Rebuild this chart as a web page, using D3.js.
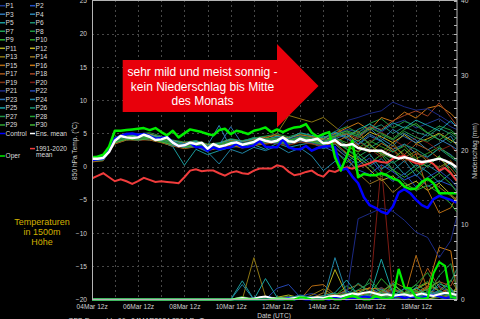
<!DOCTYPE html>
<html><head><meta charset="utf-8">
<script src="https://cdn.jsdelivr.net/npm/d3@7"></script>
<style>html,body{margin:0;padding:0;background:#000;}svg{display:block}</style>
</head><body><svg id="c" width="480" height="319"></svg>
<script>
// ---------- DATA ----------
const hours6 = [0,6,12,18,24,30,36,42,48,54,60,66,72,78,84,90,96,102,108,114,120,126,132,138,144,150,156,162,168,174,180,186,192,198,204,210,216,222,228,234,240,246,252,258,264,270,276,282,288,294,300,306,312,318,324,330,336,342,348,354,360,366,372,378];
const hours12 = [0,12,24,36,48,60,72,84,96,108,120,132,144,156,168,180,192,204,216,228,240,252,264,276,288,300,312,324,336,348,360,372,378];
const xTickHours = [0,48,96,144,192,240,288,336];
const xTickLabels = ["04Mar 12z","06Mar 12z","08Mar 12z","10Mar 12z","12Mar 12z","14Mar 12z","16Mar 12z","18Mar 12z"];
const tempTicks = [-20,-15,-10,-5,0,5,10,15,20,25];
const precipTicks = [0,10,20,30,40];

const ensMean = [1.2,1.2,1.3,2.2,3.9,4.6,4.4,4.3,4.4,4.8, 4.5,4.0,4.1,4.4,3.6,3.1,3.2,3.6,3.4,3.6, 2.7,3.4,3.0,3.2,3.5,3.65,3.3,3.5,3.7,4.2, 3.9,3.7,3.9,4.4,3.8,3.7,4.2,3.9,4.0,4.2, 3.5,3.6,4.0,3.3,3.2,3.4,2.8,2.6,2.4,2.4, 2.4,1.9,1.5,1.2,1.4,1.2,0.9,0.7,0.8,1.0, 1.2,0.9,0.5,-0.1];
const oper = [1.4,1.5,1.8,3.0,5.4,5.4,5.5,5.6,5.7,5.8, 5.5,5.8,5.2,4.7,5.4,4.4,5.0,5.6,5.4,5.2, 4.9,4.7,5.5,5.7,4.9,5.4,5.2,4.9,5.4,5.6, 5.9,5.2,5.6,5.2,5.6,5.9,6.0,6.4,5.1,4.5, 4.9,5.2,1.4,-0.6,1.5,3.9,-1.6,-1.1,-1.3,-1.3, -1.0,-1.3,-1.8,-2.1,-3.0,-3.4,-3.3,-2.3,-1.8,-2.5, -4.0,-4.0,-4.0,-4.0];
const control = [1.0,1.1,1.2,2.4,4.2,4.6,4.9,5.0,4.8,4.9, 4.6,4.2,4.3,4.5,3.6,3.1,3.2,3.6,2.9,3.0, 2.4,2.9,2.6,2.8,2.9,3.4,2.9,3.0,3.2,3.9, 3.0,2.9,2.9,4.2,2.9,2.65,2.6,3.1,2.4,2.8, 3.0,3.1,2.9,-0.5,-0.3,-1.5,-2.5,-4.6,-5.8,-6.2, -6.8,-7.1,-6.0,-3.9,-3.4,-4.0,-5.0,-5.8,-6.2,-4.9, -4.4,-4.7,-5.0,-5.4];
const climMean = [-1.8,-1.4,-1.0,-1.6,-2.2,-1.9,-2.2,-2.6,-2.2,-1.7, -2.0,-2.3,-2.2,-2.3,-2.4,-2.5,-1.6,-0.6,-0.4,-0.7, -0.6,-0.6,-1.0,-1.35,-0.9,-0.7,-1.0,-1.1,-0.6,-0.3, -0.3,-0.3,0.2,0.0,-0.75,-1.3,-1.1,-0.8,-0.6,-1.2, -1.5,-0.6,-0.8,-0.4,-0.1,-0.3,0.0,0.2,0.5,0.9, 0.7,0.6,1.2,1.4,1.65,0.9,0.5,0.4,0.9,0.4, -0.6,-0.2,-1.0,-2.1];

const ensMeanPrecip = [0,0,0,0,0,0,0,0,0,0, 0,0,0,0,0,0,0,0,0,0, 0,0,0,0,0, 0.1,0.2,0.1,0.1,0.3,0.4,0.2,0.1,0.1,0.1, 0.2,0.3,0.2,0.2,0.3,0.2,0.4,0.5,0.4,0.6, 0.8,0.7,0.9,1.0,0.8,0.6,0.7,0.5,0.6,0.7, 0.5,0.6,0.8,0.6,0.5,0.7,0.9,0.8,0.6];
const controlPrecip = [0,0,0,0,0,0,0,0,0,0, 0,0,0,0,0,0,0,0,0,0, 0,0,0,0,0,0,0,0,0,0, 0,0.1,0,0,0.2,0,0.1,0,0,0.2, 0.1,0,0.3,0.2,0,0.1,0.2,0.4,0.3,0.1, 0.2,0.1,0.3,0.5,0.2,0.4,0.3,0.2,0.5,0.6, 0.4,0.2,0.3,0.2];
const operPrecip = [0,0,0,0,0,0,0,0,0,0, 0,0,0,0,0,0,0,0,0,0, 0,0,0,0,0,0,0,0,0,0, 0,0,0,0,0, 0,0.3,0.2,0, 0,0,0.2,0,0,0.3,0.5,0.2,0,0,0.4,0.2,0.1,0.3, 4.1,1.6,1.5,0.3,0.1,0.2,3.5,5.0,4.5,0.3,0.2];

const memberNames = ["P1","P2","P3","P4","P5","P6","P7","P8","P9","P10","P11","P12","P13","P14","P15","P16","P17","P18","P19","P20","P21","P22","P23","P24","P25","P26","P27","P28","P29","P30"];
const memberColors = ["#1f3a93","#2451c8","#2f78b8","#2c86b3","#1a9a9a","#1b8f6e","#1fa055","#1e9640","#2fb02f","#2d9b22","#b5b01e","#c4b41c","#8c7612","#957420","#b36a12","#c77614","#a5561a","#a44422","#833514","#7e1c14","#1c2a85","#2446b2","#2e72b4","#2084a4","#19a3a3","#1a946f","#229445","#24a232","#32a632","#44b433"];

const memberTemps = [
[0.9,1.0,4.0,4.8,4.5,4.9,4.3,3.5,3.0,3.6, 2.5,3.2,3.8,3.0,3.9,4.2,3.6,3.5,4.6,4.3, 3.9,4.8,5.6,5.2,6.0,5.2,6.4,7.0,5.8,6.5, 7.2,6.0,5.6],
[1.3,1.4,4.2,4.6,4.7,4.4,4.0,3.2,3.3,3.0, 2.9,3.3,3.1,3.6,3.4,4.0,4.3,3.6,4.0,3.5, 3.0,2.2,1.0,-0.5,-1.2,0.3,-0.8,-2.0,-1.2,-3.0, -2.1,-2.8,-3.5],
[1.1,1.2,3.6,4.2,4.0,4.6,3.8,3.9,2.9,3.5, 3.0,2.6,3.9,3.2,3.5,3.6,4.1,4.4,3.6,4.5, 4.2,5.0,4.2,3.3,4.6,3.8,2.6,3.4,2.0,1.4, 2.8,1.8,1.0],
[1.5,1.6,4.3,4.9,4.6,4.8,4.5,3.8,3.5,3.9, 3.2,6.2,2.8,3.9,4.2,4.5,3.7,4.3,4.8,3.9, 4.6,3.8,2.9,4.6,5.8,4.2,3.1,5.0,4.0,2.5, 3.5,4.6,3.2],
[0.8,1.0,3.5,4.0,4.2,4.0,3.7,3.0,0.2,2.6, 1.8,2.4,2.9,3.1,3.3,2.6,3.5,2.9,3.3,3.6, 2.7,3.4,1.8,0.6,1.9,-0.4,0.8,-1.2,0.3,-0.8, -2.4,-1.0,-1.8],
[1.2,1.3,4.1,4.5,4.8,4.6,4.3,3.9,3.5,3.7, 3.3,3.5,4.0,3.8,4.4,4.1,4.5,4.0,4.7,4.4, 4.1,4.9,5.3,4.4,5.6,6.3,5.0,6.0,5.2,4.6, 5.8,4.9,4.2],
[1.0,1.1,3.8,4.3,4.1,4.2,3.9,3.4,3.1,3.2, 2.6,3.0,3.4,3.0,3.5,3.8,3.6,3.9,4.0,3.7, 3.3,3.9,2.7,1.5,2.6,1.9,0.5,1.6,-0.3,0.6, 1.5,0.2,-0.9],
[1.4,1.5,4.4,5.0,4.9,5.1,4.6,4.0,3.7,3.9, 3.4,3.6,4.2,3.9,4.3,4.6,4.9,4.5,5.0,4.6, 4.3,5.3,6.0,5.1,6.5,7.2,5.8,6.8,6.2,5.0, 6.1,5.5,4.8],
[1.1,1.2,3.9,4.6,4.4,4.7,4.2,3.8,3.3,3.6, 2.9,3.2,3.7,3.4,3.8,4.0,4.2,4.1,4.4,4.1, 3.8,2.5,0.6,2.0,0.5,1.8,-0.5,-1.6,-0.4,-2.2, -1.0,-2.6,-3.8],
[1.3,1.4,4.1,4.7,4.6,4.5,4.1,3.6,3.4,3.5, 2.8,3.1,3.6,3.5,3.9,4.2,4.0,3.7,4.3,4.2, 3.6,4.3,3.6,2.8,3.9,3.0,2.2,3.1,1.2,2.0, 3.0,1.6,1.1],
[0.7,0.9,3.6,4.1,4.0,4.3,3.8,3.3,2.9,3.3, 2.5,2.9,3.3,2.9,3.4,3.5,3.8,4.2,4.0,3.9, 3.4,3.6,2.0,1.1,-0.5,-2.1,-1.4,-3.0,-2.2,-3.6, -2.5,-4.2,-5.0],
[1.2,1.3,4.0,4.5,4.3,4.6,4.0,3.7,3.2,3.4, 3.0,3.4,3.9,3.5,3.7,4.1,4.4,4.0,4.5,4.3, 4.0,4.6,4.9,3.8,5.2,4.5,3.6,4.8,3.5,4.2, 5.0,4.0,3.4],
[1.0,1.1,3.7,4.4,4.2,4.4,3.9,3.5,3.1,3.4, 2.8,3.2,3.6,3.3,3.8,4.2,5.0,7.7,7.2,6.7, 7.4,6.0,4.5,5.4,3.2,2.1,3.6,1.4,2.3,0.8, -0.1,0.9,-0.4],
[1.3,1.4,4.2,4.7,4.5,4.7,4.2,3.8,3.4,3.6, 3.1,3.4,3.9,3.7,4.0,4.3,4.1,3.8,4.5,4.0, 3.7,2.8,1.5,-1.0,-2.6,-1.8,-3.9,-2.5,-3.6,-1.9, -3.1,-4.4,-5.2],
[0.9,1.0,3.4,4.0,4.1,4.0,3.6,3.1,2.7,3.0, 2.4,2.8,3.2,2.8,3.2,3.4,3.6,3.3,3.8,3.5, 3.1,3.7,4.5,3.2,2.1,3.5,2.6,0.9,1.9,-3.5, -7.0,-6.2,-4.5],
[1.4,1.5,4.3,4.8,4.7,4.9,4.4,3.9,3.6,3.8, 3.3,3.5,4.1,3.8,4.1,4.4,4.7,4.3,4.8,4.5, 4.2,5.0,5.8,6.6,5.5,7.4,6.8,8.2,7.3,8.8, 9.2,8.0,7.1],
[1.1,1.2,3.8,4.3,4.2,4.4,4.0,3.5,3.1,3.3, 2.7,3.1,3.5,3.2,3.6,3.9,3.7,3.6,4.1,3.8, 3.5,4.1,3.0,2.3,3.4,1.7,3.1,1.8,3.4,2.6, 1.2,-0.3,-1.4],
[1.2,1.3,3.9,4.4,4.3,4.5,4.1,3.6,3.2,3.5, 2.9,3.2,3.7,3.4,3.8,4.0,4.3,3.9,4.4,4.1, 3.8,4.4,5.0,4.2,6.0,5.6,6.9,7.7,8.4,7.6, 9.6,7.4,6.2],
[0.8,0.9,3.5,4.1,3.9,4.1,3.7,3.2,2.8,3.1, 2.5,2.9,3.3,3.0,3.4,3.6,3.4,3.2,3.7,3.4, 3.0,3.5,2.1,3.8,2.7,1.4,2.5,0.6,2.0,1.2, -0.4,0.8,0.0],
[1.0,1.1,3.8,4.3,4.2,4.3,3.9,3.4,3.0,3.3, 2.8,3.1,3.5,3.1,3.6,3.8,3.9,3.7,4.2,3.9, 3.5,4.0,3.3,4.6,3.6,5.2,4.1,3.0,4.4,3.6, 2.4,3.2,2.1],
[1.3,1.4,4.1,4.6,4.5,4.6,4.1,3.7,3.4,3.6, 3.1,3.3,3.8,3.6,3.9,4.2,4.4,4.1,4.6,4.3, 3.9,5.2,6.9,7.4,8.0,8.4,9.7,9.0,8.5,8.7, 7.7,6.6,6.2],
[1.0,1.1,3.7,4.2,4.0,4.2,3.8,3.3,2.9,3.2, 2.6,3.0,3.4,3.1,3.5,3.7,3.5,3.4,3.9,3.6, 3.2,3.0,1.4,0.2,1.3,-0.9,-2.2,-1.0,-3.1,-1.6, -0.6,-2.0,-3.0],
[1.2,1.3,4.0,4.5,4.4,4.5,4.0,3.6,3.3,3.5, 3.0,3.2,6.0,3.4,3.8,4.1,4.0,3.8,4.3,4.0, 3.6,4.2,4.8,3.4,4.9,3.9,5.6,4.5,3.6,5.0, 4.1,3.2,2.6],
[0.9,1.0,3.6,4.2,4.1,4.3,3.8,3.2,2.9,3.0, 2.2,0.4,2.6,2.0,2.9,2.4,3.1,2.1,2.8,1.6, -0.6,0.8,-0.4,1.5,0.1,1.2,-0.6,0.9,-1.4,0.2, -0.9,0.6,-0.5],
[1.4,1.5,4.3,4.8,4.6,4.8,4.4,3.9,3.5,3.8, 3.2,3.5,4.1,3.8,4.2,4.0,4.6,4.2,5.1,4.7, 4.3,5.2,4.4,5.6,6.4,5.4,6.6,5.8,7.0,6.2, 5.4,6.9,6.0],
[1.1,1.2,3.9,4.4,4.3,4.5,4.0,3.6,3.2,3.4, 2.9,3.3,3.7,3.3,3.7,3.9,4.1,3.8,4.3,4.0, 3.6,4.4,3.2,4.0,2.8,3.9,2.2,3.3,2.6,1.5, 2.7,1.4,0.8],
[1.3,1.4,4.1,4.6,4.5,4.6,4.2,3.7,3.3,3.6, 3.0,3.4,3.8,3.5,3.9,4.2,4.3,4.0,4.5,4.3, 3.8,4.5,5.1,4.6,3.5,4.8,4.0,5.3,4.4,3.8, 4.9,3.6,4.4],
[1.0,1.1,3.7,4.2,4.1,4.3,3.8,3.4,3.0,3.3, 2.7,3.1,3.5,3.2,3.6,3.8,3.6,3.5,4.0,3.7, 3.3,3.8,2.6,1.3,0.2,-1.5,-0.4,-2.4,-3.6,-2.8, -4.0,-5.6,-6.8],
[1.2,1.3,4.0,4.5,4.4,4.4,4.1,3.6,3.2,3.5, 2.9,3.3,3.7,3.3,3.8,4.1,4.2,3.9,4.4,4.1, 3.7,4.6,5.4,4.8,5.9,5.0,4.2,5.6,6.5,5.1, 4.0,5.2,4.6],
[0.9,1.0,3.6,4.1,4.0,4.2,3.7,3.3,2.9,3.2, 2.6,3.0,3.4,3.0,3.4,3.7,3.8,3.6,4.1,3.8, 3.4,3.9,3.1,2.2,3.3,2.0,1.2,2.6,0.9,0.0, 1.6,-0.8,-2.2]
];

const memberPrecip = [
[0,0,0,0,0,0,0,0,0,0,0,0, 0,0,0.2,0.3,0,0,0.5,0.8,0.3,0, 0.4,1.2,0.6,0.2,0,0.3,0.8,1.4,0.5,0.2, 0.6],
[0,0,0,0,0,0,0,0,0,0,0,0, 0,0,0,0.4,0.2,0,0,0.3,0,0.6, 1.1,0.4,0.9,1.6,0.7,0.3,1.0,0.5,1.8,0.9, 0.4],
[0,0,0,0,0,0,0,0,0,0,0,0, 0,0.3,0,0,0,0.2,0,0,0.4,0.2, 0,0.3,0.8,0.2,0,0.5,0.3,0,0.6,1.0, 0.3],
[0,0,0,0,0,0,0,0,0,0,0,0, 0,0,0,0,0.3,0,0,0,0,0.2, 0.6,0,0.3,0.9,2.2,0.6,0.2,1.1,0.4,0.2, 0.8],
[0,0,0,0,0,0,0,0,0,0,0,0, 0,2.5,0,0.2,0,0,0.3,0,0,0, 1.2,0.4,0,0.6,1.5,0.8,0.3,0,0.4,1.3, 0.2],
[0,0,0,0,0,0,0,0,0,0,0,0, 0,0,0.2,0,0,0,0,0.3,0.5,0.2, 0,0.2,0.3,0.6,0.2,0,0.4,0.9,0.3,0.6, 0.5],
[0,0,0,0,0,0,0,0,0,0,0,0, 0,0,0,0,0.2,0.4,0.2,0,0.3,0.8, 0.6,1.3,2.2,0.9,1.4,0.7,2.0,1.1,0.5,0.9, 1.5],
[0,0,0,0,0,0,0,0,0,0,0,0, 0,0,0,0,0,0,0,0,0.2,0, 0.3,0,0.5,0.2,0.2,0.6,0.3,0.2,0,0.4, 0.3],
[0,0,0,0,0,0,0,0,0,0,0,0, 0,0.4,0,0,0.3,0.2,0,0,0,0.5, 1.8,0.9,0.6,2.8,1.2,0.8,1.5,2.4,1.0,0.6, 1.3],
[0,0,0,0,0,0,0,0,0,0,0,0, 0,0,0,0.2,0,0,0.3,0,0.2,0, 0.5,0.2,0,0.8,0.4,0.2,0.6,1.0,0.4,0.2, 0.7],
[0,0,0,0,0,0,0,0,0,0,0,0, 0,0,0,0,0.3,0.6,0.2,0,0,4.0, 0.6,0.9,1.6,0.4,2.0,0.8,1.4,2.2,1.1,0.5, 1.6],
[0,0,0,0,0,0,0,0,0,0,0,0, 0,0,0,0,0,0.2,0,0,0.3,0.2, 0,0.4,0.2,0,0.3,0.6,0.2,0,0.5,0.3, 0.2],
[0,0,0,0,0,0,0,0,0,0,0,0, 0,0,5.6,0.4,0,0.2,0,0.6,1.4,0.5, 0.2,0.9,0.4,1.2,0.6,0.2,0.8,0.4,1.0,0.5, 0.3],
[0,0,0,0,0,0,0,0,0,0,0,0, 0,0,0,0,0,0,0.4,0.2,0.9,0.5, 1.3,2.0,1.2,0.8,2.4,1.6,0.9,1.8,1.2,2.6, 1.4],
[0,0,0,0,0,0,0,0,0,0,0,0, 0,0,0,0.2,0,0,0,1.8,2.0,0.6, 0.2,0.5,0.9,0.3,0.6,0.4,5.9,1.2,0.8,1.6, 0.5],
[0,0,0,0,0,0,0,0,0,0,0,0, 0,0,0,0,0,0,0,0.3,0.5,0.2, 0.4,1.2,1.5,1.4,0.6,0.3,0.8,1.6,7.0,6.5, 1.2],
[0,0,0,0,0,0,0,0,0,0,0,0, 0,0,0,0,0.2,0,0,0,0.3,0.6, 0.3,0.2,0.5,1.0,0.5,0.3,0.9,4.2,1.6,0.7, 0.4],
[0,0,0,0,0,0,0,0,0,0,0,0, 0,0,0,0,0,0,0,0,0,0.2, 0.5,0.3,0,0.6,1.4,0.8,0.4,1.6,2.4,1.8, 3.4],
[0,0,0,0,0,0,0,0,0,0,0,0, 0,0,0,0,0,0.3,0,0.2,0,0.5, 0.9,0.6,0.3,1.6,0.9,0.4,1.2,0.6,0.3,0.8, 0.5],
[0,0,0,0,0,0,0,0,0,0,0,0, 0,0,0,0,0,0,0,0,0,0, 0.3,0.4,0.6,18.0,0.4,0.2,0.8,0.5,0.3,0.6, 0.4],
[0,0,0,0,0,0,0,0,0,0,0,0, 0,0,0,0,0,0,0,0,0,0, 0.5,10.8,11.5,12.2,11.8,10.6,9.0,8.3,5.6,7.9, 11.0],
[0,0,0,0,0,0,0,0,0,0,0,0, 0,0,0,0,1.5,2.0,0.3,0,0.2,0, 0.4,0.6,0.3,0.2,0.8,0.4,0.2,0.5,0.9,0.3, 0.6],
[0,0,0,0,0,0,0,0,0,0,0,0, 0,0,0.2,0,0,0.2,0.6,0.3,0,0.3, 0.8,0.4,0.2,0.9,0.5,1.5,0.7,0.3,1.1,0.6, 0.4],
[0,0,0,0,0,0,0,0,0,0,0,0, 0,2.0,0,0,0.3,0,0,0.4,0,5.6, 0.8,0.3,0.6,1.4,0.5,0.9,0.3,0.6,1.2,0.4, 0.8],
[0,0,0,0,0,0,0,0,0,0,0,0, 0,0,0,2.8,0.3,0,0.2,0,0.5,0.9, 2.6,0.6,0.4,5.4,0.8,0.5,1.6,0.6,2.1,1.5, 0.4],
[0,0,0,0,0,0,0,0,0,0,0,0, 0,0,0,0,0,0.2,0.5,0.2,0,0.6, 0.4,2.2,0.9,0.6,0.4,1.4,0.7,0.3,1.0,2.4, 4.0],
[0,0,0,0,0,0,0,0,0,0,0,0, 0,0,0,0,0,0,0.2,0.3,0,0.4, 0.6,0.3,2.8,0.9,0.5,0.3,1.1,0.6,3.2,4.8, 1.5],
[0,0,0,0,0,0,0,0,0,0,0,0, 0,0,0,0,0,0,0,0,0.3,0.2, 0,0.5,0.3,0.8,0.4,0.9,2.0,3.6,1.0,0.6, 0.3],
[0,0,0,0,0,0,0,0,0,0,0,0, 0,0,0,0,0.3,0,0,0.2,0,0.3, 0.5,0.2,0.9,0.4,0.3,0.8,1.2,0.5,0.3,0.7, 0.4],
[0,0,0,0,0,0,0,0,0,0,0,0, 0,0,0,0,0,0.2,0,0,0,0.4, 0.8,0.5,0.3,1.1,2.0,0.9,0.6,1.4,2.4,0.8, 0.5]
];

// ---------- DRAW ----------
const svg = d3.select("#c");
svg.append("rect").attr("width",480).attr("height",319).attr("fill","#000");
const FONT = "'Liberation Sans', Arial, sans-serif";

const x = d3.scaleLinear().domain([0,378]).range([91.7,456.6]);
const yT = d3.scaleLinear().domain([-20,25]).range([299.5,0.5]);
const yP = d3.scaleLinear().domain([0,40]).range([299.5,0.5]);

svg.append("defs").append("clipPath").attr("id","clip")
  .append("rect").attr("x",92).attr("y",0).attr("width",365).attr("height",301);

// grid
const grid = svg.append("g").attr("stroke","#474747").attr("stroke-width",1).attr("stroke-dasharray","2,3");
tempTicks.filter(v => v > -20 && v < 25).forEach(v => {
  grid.append("line").attr("x1",92).attr("x2",457).attr("y1",Math.round(yT(v))+0.5).attr("y2",Math.round(yT(v))+0.5);
});
d3.range(24, 378, 24).forEach(h => {
  grid.append("line").attr("x1",Math.round(x(h))+0.5).attr("x2",Math.round(x(h))+0.5).attr("y1",0).attr("y2",299);
});

const plot = svg.append("g").attr("clip-path","url(#clip)");
const lineT = (hrs) => d3.line().x((d,i) => x(hrs[i])).y(d => yT(d));
const lineP = (hrs) => d3.line().x((d,i) => x(hrs[i])).y(d => yP(d));

// member precipitation
memberPrecip.forEach((s,k) => {
  plot.append("path").attr("d", lineP(hours12)(s)).attr("fill","none")
    .attr("stroke", memberColors[k]).attr("stroke-width",1).attr("stroke-linejoin","round");
});
// member temperatures
memberTemps.forEach((s,k) => {
  plot.append("path").attr("d", lineT(hours12)(s)).attr("fill","none")
    .attr("stroke", memberColors[k]).attr("stroke-width",1).attr("stroke-linejoin","round");
});
// climatology
plot.append("path").attr("d", lineT(hours6)(climMean)).attr("fill","none").attr("stroke","#f03c3c").attr("stroke-width",2);
// precip thick
plot.append("path").attr("d", lineP(hours6)(controlPrecip)).attr("fill","none").attr("stroke","#0000ff").attr("stroke-width",2.2);
plot.append("path").attr("d", lineP(hours6)(ensMeanPrecip)).attr("fill","none").attr("stroke","#ffffff").attr("stroke-width",2.2);
plot.append("path").attr("d", lineP(hours6)(operPrecip)).attr("fill","none").attr("stroke","#00ee00").attr("stroke-width",2.2);
// control / oper / ens mean temps
plot.append("path").attr("d", lineT(hours6)(control)).attr("fill","none").attr("stroke","#0000ff").attr("stroke-width",2.5).attr("stroke-linejoin","round");
plot.append("path").attr("d", lineT(hours6)(oper)).attr("fill","none").attr("stroke","#00ee00").attr("stroke-width",2.5).attr("stroke-linejoin","round");
plot.append("path").attr("d", lineT(hours6)(ensMean)).attr("fill","none").attr("stroke","#ffffff").attr("stroke-width",2.5).attr("stroke-linejoin","round");

// frame
svg.append("rect").attr("x",92.5).attr("y",0.5).attr("width",364.5).attr("height",299)
  .attr("fill","none").attr("stroke","#b4b4b4").attr("stroke-width",1);

// axes
const axL = svg.append("g").attr("transform","translate(92,0)")
  .call(d3.axisLeft(yT).tickValues(tempTicks).tickSize(0).tickPadding(5).tickFormat(d3.format("d")));
const axR = svg.append("g").attr("transform","translate(457,0)")
  .call(d3.axisRight(yP).tickValues(precipTicks).tickSize(0).tickPadding(4).tickFormat(d3.format("d")));
const axB = svg.append("g").attr("transform","translate(0,299.5)")
  .call(d3.axisBottom(x).tickValues(xTickHours).tickSize(0).tickPadding(5).tickFormat((d,i) => xTickLabels[i]));
[axL, axR, axB].forEach(a => {
  a.select(".domain").remove();
  a.selectAll("text").attr("fill","#d0d0d0").style("font-family",FONT).style("font-size","6.6px");
});
// right-axis minor ticks
const minor = svg.append("g").attr("stroke","#b4b4b4").attr("stroke-width",1);
d3.range(0, 40.001, 10/9).forEach(v => {
  minor.append("line").attr("x1",454).attr("x2",457).attr("y1",Math.round(yP(v))+0.5).attr("y2",Math.round(yP(v))+0.5);
});

// axis titles
svg.append("text").attr("transform","translate(74,151) rotate(-90)").attr("text-anchor","middle")
  .attr("dominant-baseline","central").attr("fill","#d0d0d0").style("font-family",FONT).style("font-size","6.6px")
  .text("850 hPa Temp. (°C)");
svg.append("text").attr("transform","translate(474,151) rotate(-90)").attr("text-anchor","middle")
  .attr("dominant-baseline","central").attr("fill","#d0d0d0").style("font-family",FONT).style("font-size","6.6px")
  .text("Niederschlag (mm)");
svg.append("text").attr("x",274).attr("y",318).attr("text-anchor","middle").attr("fill","#d0d0d0")
  .style("font-family",FONT).style("font-size","6.6px").text("Date (UTC)");
svg.append("text").attr("x",68).attr("y",322.5).attr("fill","#d0d0d0")
  .style("font-family",FONT).style("font-size","7px").text("GFS-Ensemble 06z 04MAR2024 850 hPa Temp.");
svg.append("text").attr("x",367).attr("y",322.5).attr("fill","#d0d0d0")
  .style("font-family",FONT).style("font-size","7px").text("(c) wetterzentrale.de");

// legend
const leg = svg.append("g").style("font-family",FONT).style("font-size","6.6px");
memberNames.forEach((n,k) => {
  const col = k % 2, row = Math.floor(k / 2);
  const yy = 5.7 + row * 8.52;
  const x0 = col === 0 ? 0 : 30;
  leg.append("line").attr("x1",x0).attr("x2",x0+5).attr("y1",yy).attr("y2",yy).attr("stroke",memberColors[k]).attr("stroke-width",1.5);
  leg.append("text").attr("x",x0+5.5).attr("y",yy+2.4).attr("fill","#dcdcdc").text(n);
});
const specials = [
  {name:"Control", color:"#0000ff", x0:0, y:5.7+15*8.52},
  {name:"Ens. mean", color:"#ffffff", x0:30, y:5.7+15*8.52},
  {name:"Oper", color:"#00ee00", x0:0, y:156},
  {name:"1991-2020", color:"#f03c3c", x0:30, y:148.6}
];
specials.forEach(s => {
  leg.append("line").attr("x1",s.x0).attr("x2",s.x0+5).attr("y1",s.y).attr("y2",s.y).attr("stroke",s.color).attr("stroke-width",1.5);
  leg.append("text").attr("x",s.x0+5.5).attr("y",s.y+2.3).attr("fill","#dcdcdc").text(s.name);
});
leg.append("text").attr("x",36).attr("y",156.6).attr("fill","#dcdcdc").text("mean");

// annotation
const note = svg.append("g").style("font-family",FONT);
["Temperaturen","in 1500m","Höhe"].forEach((t,i) => {
  note.append("text").attr("x",42).attr("y",224.5 + i*10.2).attr("text-anchor","middle")
    .attr("fill","#d2b000").style("font-size","9px").text(t);
});

// red arrow
svg.append("path").attr("d","M122.7,60 L277,60 L277,44 L318.5,86 L277,127.5 L277,112 L122.7,112 Z").attr("fill","#e8000b");
["sehr mild und meist sonnig -","kein Niederschlag bis Mitte","des Monats"].forEach((t,i) => {
  svg.append("text").attr("x",202.5).attr("y",76 + i*14.5).attr("text-anchor","middle")
    .attr("fill","#ffffff").style("font-family",FONT).style("font-size","12px").text(t);
});
</script>
</body></html>
